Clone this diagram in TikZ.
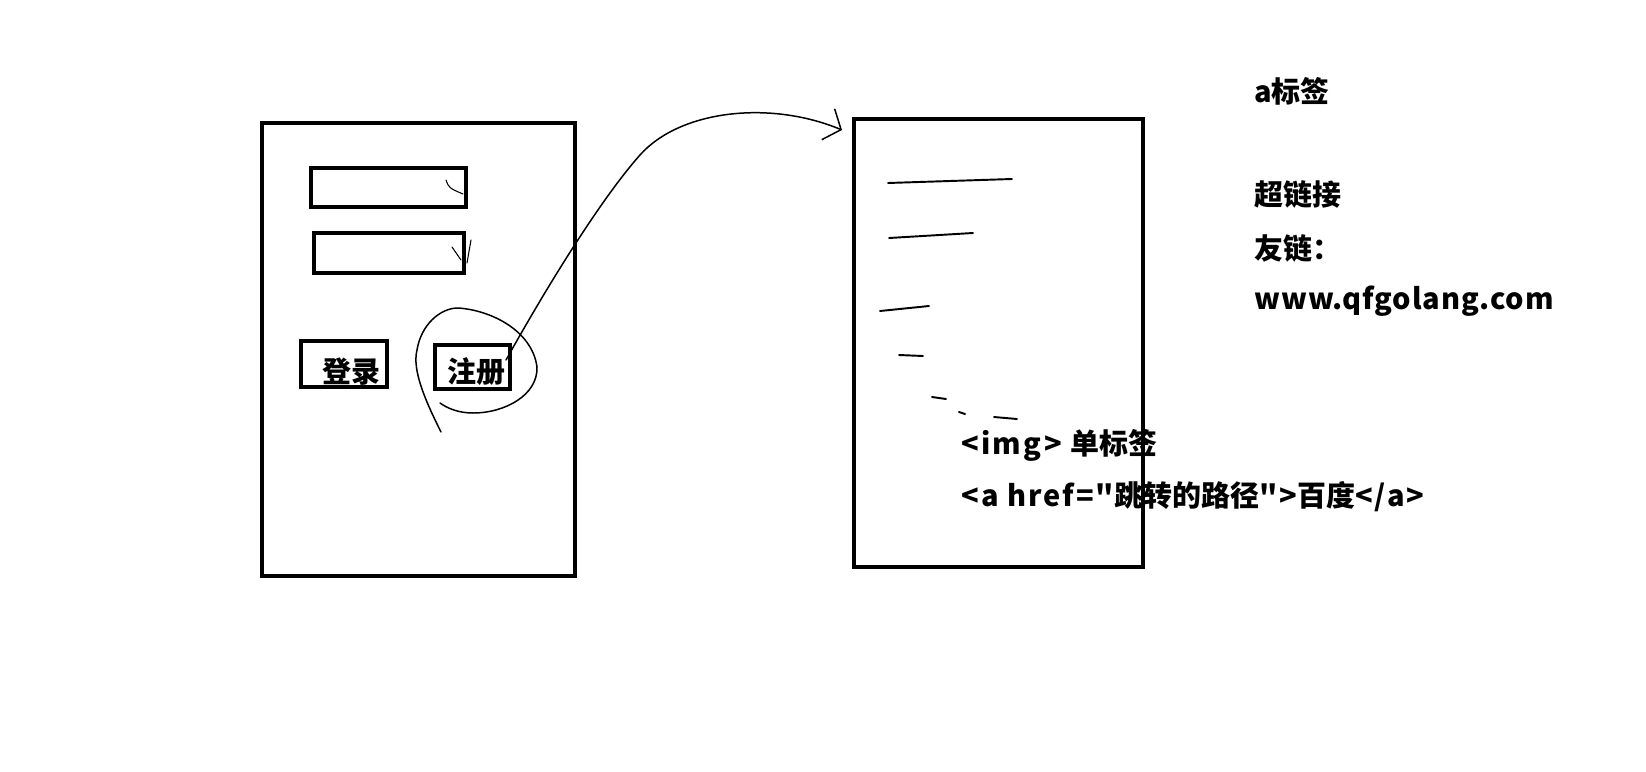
\documentclass[tikz,border=0pt]{standalone}
\usepackage{fontspec}
\setmainfont{Noto Sans CJK SC}[Ligatures=TeXOff]
\newcommand\en[2][4]{{\addfontfeature{LetterSpace=#1}#2}}
\usetikzlibrary{arrows.meta}
\tikzset{>=latex}
\tikzset{
  frame/.style={draw, line width=2.3pt, inner sep=0pt},
  note/.style={font=\fontsize{16.5}{20}\selectfont\bfseries, inner sep=0pt},
  pen/.style={line width=0.85pt, line cap=round, line join=round},
}

\begin{document}
\begin{tikzpicture}[x=0.02cm, y=-0.02cm]
    \useasboundingbox (0,0) rectangle (1646,771);

    % login page
    \node[frame, minimum width=6.26cm, minimum height=9.06cm] (loginpage) at (418.5,349.5) {};
    \node[frame, minimum width=3.1cm, minimum height=0.78cm] (user) at (388.5,187.5) {};
    \node[frame, minimum width=3.0cm, minimum height=0.8cm] (pass) at (389,253) {};
    \node[frame, minimum width=1.72cm, minimum height=0.92cm] (loginbtn) at (344,364) {};
    \node[frame, minimum width=1.5cm, minimum height=0.88cm] (regbtn) at (472.5,367) {};
    \node[note] (logintext) at (351,372) {登录};
    \node[note] (regtext) at (476,372) {注册};

    % little strokes in the inputs
    \draw[pen, line width=0.6pt] (446,180) .. controls (449,188) .. (463,194);
    \draw[pen, line width=0.6pt] (452,247) -- (461,260);
    \draw[pen, line width=0.6pt] (471,240) -- (467,263);

    % circle round the button
    \draw[pen] (441,432) .. controls (425,400) and (412,370) .. (417,350)
        .. controls (421,325) and (440,308) .. (458,308)
        .. controls (490,310) and (532,330) .. (537,367)
        .. controls (538,395) and (505,413) .. (473,413)
        .. controls (458,413) and (447,408) .. (440,403);

    % target page
    \node[frame, minimum width=5.78cm, minimum height=8.96cm] (page) at (998.5,343) {};
    \coordinate (tip) at (842,130);
    \draw[pen, -{Straight Barb[length=2.8mm, width=6.7mm]}] (regbtn.east) ++(-6,-7)
        .. controls (545,290) and (600,200) .. (640,155)
        .. controls (680,110) and (770,100) .. (tip);

    % page content
    \begin{scope}[pen, line width=1.1pt]
        \draw (888,183) -- (950,181) -- (1012,179);
        \draw (889,238) -- (973,233);
        \draw (880,311) -- (929,306);
        \draw (899,355) -- (923,356);
        \draw (932,397) -- (946,399);
        \draw (959,412) -- (965,414);
        \draw (994,417) -- (1017,419);
    \end{scope}

    \node[note, anchor=west] (imgtag) at (961,445) {\en[8]{<img> }单标签};
    \node[note, anchor=west] (atag) at (961,497) {\en[7]{<a href="}跳转的路径\en[7]{">}百度\en[7]{</a>}};

    % notes on the right
    \node[note, anchor=west] (title) at (1254,91) {a标签};
    \node[note, anchor=west] (link) at (1254,194) {超链接};
    \node[note, anchor=west] (friend) at (1254,248) {友链：};
    \node[note, anchor=west] (site) at (1254,301) {\en[3]{www.qfgolang.com}};
\end{tikzpicture}
\end{document}
